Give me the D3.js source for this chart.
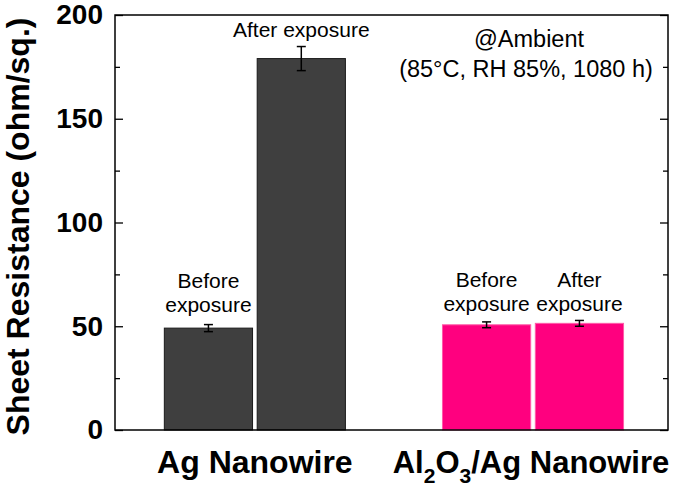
<!DOCTYPE html>
<html><head><meta charset="utf-8">
<script src="https://cdn.jsdelivr.net/npm/d3@7"></script>
<style>body{margin:0;background:#fff}svg{display:block;font-family:"Liberation Sans",Arial,sans-serif}</style>
</head><body><svg id="c" width="675" height="488"></svg>
<script>
const groups = ["Ag Nanowire", "Al2O3/Ag Nanowire"];
const conditions = ["Before", "After"];
const agValues = [49.1, 179.0];
const agErrors = [1.7, 5.8];
const alValues = [50.7, 51.4];
const alErrors = [1.4, 1.4];
const majorTicks = [0, 50, 100, 150, 200];
const minorTicks = [25, 75, 125, 175];
const yTitle = "Sheet Resistance (ohm/sq.)";
const annotLines = ["@Ambient", "(85°C, RH 85%, 1080 h)"];

const data = [
  {group: groups[0], cond: conditions[0], v: agValues[0], e: agErrors[0]},
  {group: groups[0], cond: conditions[1], v: agValues[1], e: agErrors[1]},
  {group: groups[1], cond: conditions[0], v: alValues[0], e: alErrors[0]},
  {group: groups[1], cond: conditions[1], v: alValues[1], e: alErrors[1]}
];
const fills = {[groups[0]]: "#3f3f3f", [groups[1]]: "#ff007f"};
const strokes = {[groups[0]]: "#1a1a1a", [groups[1]]: "#ff5aa8"};

const L = 115, R = 668, T = 15, B = 430;
const svg = d3.select("#c");
const y = d3.scaleLinear().domain([0, 200]).range([B, T]);
const x0 = d3.scaleBand().domain(groups).range([L, R]).paddingInner(0.349).paddingOuter(0.1686).align(0.526);
const x1 = d3.scaleBand().domain(conditions).range([0, x0.bandwidth()]).paddingInner(0.05).paddingOuter(0);

// bars
const g = svg.append("g");
g.selectAll("rect.bar").data(data).join("rect").attr("class", "bar")
  .attr("x", d => x0(d.group) + x1(d.cond))
  .attr("y", d => y(d.v))
  .attr("width", x1.bandwidth())
  .attr("height", d => y(0) - y(d.v))
  .attr("fill", d => fills[d.group])
  .attr("stroke", d => strokes[d.group])
  .attr("stroke-width", 1);

// error bars
const eb = g.selectAll("g.err").data(data).join("g").attr("class", "err")
  .attr("transform", d => `translate(${x0(d.group) + x1(d.cond) + x1.bandwidth() / 2},0)`);
eb.append("line").attr("y1", d => y(d.v - d.e)).attr("y2", d => y(d.v + d.e)).attr("stroke", "#000").attr("stroke-width", 1.5);
eb.append("line").attr("x1", -4.5).attr("x2", 4.5).attr("y1", d => y(d.v - d.e)).attr("y2", d => y(d.v - d.e)).attr("stroke", "#000").attr("stroke-width", 1.5);
eb.append("line").attr("x1", -4.5).attr("x2", 4.5).attr("y1", d => y(d.v + d.e)).attr("y2", d => y(d.v + d.e)).attr("stroke", "#000").attr("stroke-width", 1.5);

// axes
const yAxis = svg.append("g").attr("transform", `translate(${L},0)`)
  .call(d3.axisLeft(y).tickValues(majorTicks).tickSize(-8).tickPadding(12).tickFormat(d3.format("d")));
yAxis.select(".domain").remove();
yAxis.selectAll("line").attr("stroke", "#000").attr("stroke-width", 1.3);
yAxis.selectAll("text").attr("font-size", 28).attr("font-weight", "bold").attr("fill", "#000").attr("font-family", "Liberation Sans, Arial, sans-serif");
const yMinor = svg.append("g").attr("transform", `translate(${L},0)`)
  .call(d3.axisLeft(y).tickValues(minorTicks).tickSize(-5).tickFormat(""));
yMinor.select(".domain").remove();
yMinor.selectAll("line").attr("stroke", "#000").attr("stroke-width", 1.3);

const yR = svg.append("g").attr("transform", `translate(${R},0)`)
  .call(d3.axisRight(y).tickValues(majorTicks).tickSize(-8).tickFormat(""));
yR.select(".domain").remove();
yR.selectAll("line").attr("stroke", "#000").attr("stroke-width", 1.3);
const yRm = svg.append("g").attr("transform", `translate(${R},0)`)
  .call(d3.axisRight(y).tickValues(minorTicks).tickSize(-5).tickFormat(""));
yRm.select(".domain").remove();
yRm.selectAll("line").attr("stroke", "#000").attr("stroke-width", 1.3);

// frame
svg.append("rect").attr("x", L).attr("y", T).attr("width", R - L).attr("height", B - T)
  .attr("fill", "none").attr("stroke", "#000").attr("stroke-width", 1.5);

// y title
svg.append("text").attr("transform", `translate(29,${(T + B) / 2 + 4}) rotate(-90)`)
  .attr("text-anchor", "middle").attr("font-size", 32).attr("font-weight", "bold").text(yTitle);

// x labels
const xl = svg.append("g");
xl.append("text").attr("x", x0(groups[0]) + x0.bandwidth() / 2).attr("y", 473)
  .attr("text-anchor", "middle").attr("font-size", 32).attr("font-weight", "bold").text(groups[0]);
const t2 = xl.append("text").attr("x", x0(groups[1]) + x0.bandwidth() / 2 - 2).attr("y", 473)
  .attr("text-anchor", "middle").attr("font-size", 31).attr("font-weight", "bold");
t2.append("tspan").text("Al");
t2.append("tspan").attr("font-size", 21).attr("dy", 10).text("2");
t2.append("tspan").attr("dy", -10).text("O");
t2.append("tspan").attr("font-size", 21).attr("dy", 10).text("3");
t2.append("tspan").attr("dy", -10).text("/Ag Nanowire");

// bar labels
const lab = (d, lines, baseY) => {
  const cx = x0(d.group) + x1(d.cond) + x1.bandwidth() / 2;
  lines.forEach((s, i) => svg.append("text").attr("x", cx).attr("y", baseY + i * 24)
    .attr("text-anchor", "middle").attr("font-size", 21).text(s));
};
lab(data[0], ["Before", "exposure"], 288);
lab(data[1], ["After exposure"], 37);
lab(data[2], ["Before", "exposure"], 287);
lab(data[3], ["After", "exposure"], 287);

// annotation
svg.append("text").attr("x", 529).attr("y", 47).attr("text-anchor", "middle").attr("font-size", 23.5).text(annotLines[0]);
svg.append("text").attr("x", 526).attr("y", 77).attr("text-anchor", "middle").attr("font-size", 23.5).text(annotLines[1]);
</script></body></html>
